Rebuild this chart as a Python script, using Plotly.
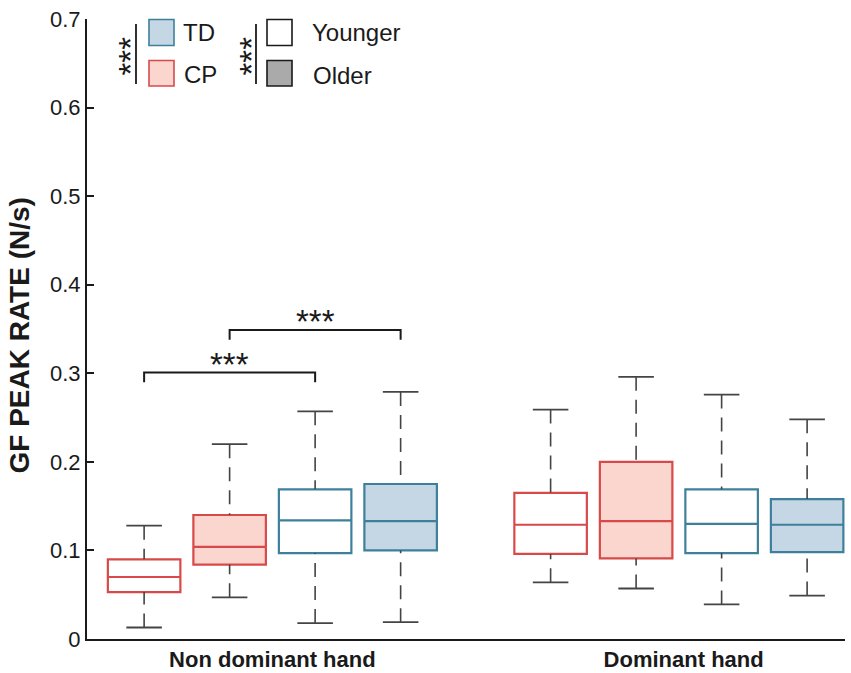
import plotly.graph_objects as go

# ---------------- data ----------------
categories = ["Non dominant hand", "Dominant hand"]
groups = ["CP Younger", "CP Older", "TD Younger", "TD Older"]

lower_whisker = {
    "CP Younger": [0.013, 0.064],
    "CP Older":   [0.047, 0.057],
    "TD Younger": [0.018, 0.039],
    "TD Older":   [0.019, 0.049],
}
q1_vals = {
    "CP Younger": [0.053, 0.096],
    "CP Older":   [0.084, 0.091],
    "TD Younger": [0.097, 0.097],
    "TD Older":   [0.100, 0.098],
}
median_vals = {
    "CP Younger": [0.070, 0.129],
    "CP Older":   [0.104, 0.133],
    "TD Younger": [0.134, 0.130],
    "TD Older":   [0.133, 0.129],
}
q3_vals = {
    "CP Younger": [0.090, 0.165],
    "CP Older":   [0.140, 0.200],
    "TD Younger": [0.169, 0.169],
    "TD Older":   [0.175, 0.158],
}
upper_whisker = {
    "CP Younger": [0.128, 0.259],
    "CP Older":   [0.220, 0.296],
    "TD Younger": [0.257, 0.276],
    "TD Older":   [0.279, 0.248],
}

# significance brackets (Non dominant hand): pairs of group indices and level
sig_pairs = [(0, 2), (1, 3)]
sig_levels = [0.301, 0.349]
sig_labels = ["***", "***"]

y_ticks = [0, 0.1, 0.2, 0.3, 0.4, 0.5, 0.6, 0.7]

# ---------------- styling ----------------
RED = "rgb(216,74,74)"
PINK = "rgb(250,214,207)"
BLUE = "rgb(62,128,155)"
LBLUE = "rgb(197,214,229)"
WHISK = "#444444"
FONT = "Liberation Sans, Arial, sans-serif"

line_col = {"CP Younger": RED, "CP Older": RED, "TD Younger": BLUE, "TD Older": BLUE}
fill_col = {"CP Younger": "white", "CP Older": PINK, "TD Younger": "white", "TD Older": LBLUE}

W, H = 851, 673
L, R, T, B = 87, 6, 19, 34
PW, PH = W - L - R, H - T - B

group_centers = [0.0, 4.754]
label_positions = [0.0, 4.81]
offsets = [-1.5, -0.5, 0.5, 1.5]
box_w = 0.848
cap_half = 0.208
x_range = [-2.168, 6.697]


def pos(gi, ci):
    return group_centers[ci] + offsets[gi]


def pxx(x):
    return (x - L) / PW


def pxy(y):
    return (H - B - y) / PH


fig = go.Figure()

# whiskers (dashed) and caps (solid)
wx, wy, cx, cy = [], [], [], []
for gi, g in enumerate(groups):
    for ci in range(len(categories)):
        x = pos(gi, ci)
        wx += [x, x, None, x, x, None]
        wy += [upper_whisker[g][ci], q3_vals[g][ci], None,
               lower_whisker[g][ci], q1_vals[g][ci], None]
        cx += [x - cap_half, x + cap_half, None, x - cap_half, x + cap_half, None]
        cy += [upper_whisker[g][ci], upper_whisker[g][ci], None,
               lower_whisker[g][ci], lower_whisker[g][ci], None]

fig.add_trace(go.Scatter(x=wx, y=wy, mode="lines", hoverinfo="skip", showlegend=False,
                         line=dict(color=WHISK, width=1.6, dash="14px,9px")))
fig.add_trace(go.Scatter(x=cx, y=cy, mode="lines", hoverinfo="skip", showlegend=False,
                         line=dict(color=WHISK, width=1.8)))

# boxes
for gi, g in enumerate(groups):
    xs = [pos(gi, ci) for ci in range(len(categories))]
    fig.add_trace(go.Box(
        x=xs, q1=q1_vals[g], median=median_vals[g], q3=q3_vals[g],
        lowerfence=q1_vals[g], upperfence=q3_vals[g],
        width=box_w, whiskerwidth=0, boxpoints=False,
        fillcolor=fill_col[g], line=dict(color=line_col[g], width=2.2),
        name=g, showlegend=False, hoverinfo="skip",
    ))

# significance brackets
drop = 0.011
for (a, b), lvl, lab in zip(sig_pairs, sig_levels, sig_labels):
    xa, xb = pos(a, 0), pos(b, 0)
    fig.add_trace(go.Scatter(x=[xa, xa, xb, xb], y=[lvl - drop, lvl, lvl, lvl - drop],
                             mode="lines", hoverinfo="skip", showlegend=False,
                             line=dict(color="#1a1a1a", width=2)))
    fig.add_annotation(x=(xa + xb) / 2, y=lvl, yshift=8, text=lab, showarrow=False,
                       xanchor="center", yanchor="middle",
                       font=dict(family=FONT, size=33, color="#1a1a1a"))

# ---------------- custom legend ----------------
shapes = []
# vertical bars
for xp in [136, 256]:
    shapes.append(dict(type="line", xref="paper", yref="paper",
                       x0=pxx(xp), x1=pxx(xp), y0=pxy(24), y1=pxy(84),
                       line=dict(color="#1a1a1a", width=1.8)))
legend_boxes = [
    (149, 174, 19.5, 45.5, LBLUE, BLUE, "TD", 181, 32),
    (149, 174, 60.5, 86, PINK, RED, "CP", 182, 74),
    (267, 292, 19.5, 45.5, "white", "#1a1a1a", "Younger", 310, 32),
    (267, 292, 60.5, 86, "#aaaaaa", "#1a1a1a", "Older", 311, 75),
]
for x0, x1, y0, y1, fc, lc, txt, tx, ty in legend_boxes:
    shapes.append(dict(type="rect", xref="paper", yref="paper",
                       x0=pxx(x0), x1=pxx(x1), y0=pxy(y1), y1=pxy(y0),
                       fillcolor=fc, line=dict(color=lc, width=1.6)))
    fig.add_annotation(xref="paper", yref="paper", x=pxx(tx), y=pxy(ty), text=txt,
                       showarrow=False, xanchor="left", yanchor="middle",
                       font=dict(family=FONT, size=24, color="#1a1a1a"))
for xp in [130, 251]:
    fig.add_annotation(xref="paper", yref="paper", x=pxx(xp), y=pxy(56.5), text="***",
                       textangle=-90, showarrow=False, xanchor="center", yanchor="middle",
                       font=dict(family=FONT, size=33, color="#1a1a1a"))

# y-axis title
fig.add_annotation(xref="paper", yref="paper", x=pxx(19.5), y=pxy(336), text="<b>GF PEAK RATE (N/s)</b>",
                   textangle=-90, showarrow=False, xanchor="center", yanchor="middle",
                   font=dict(family=FONT, size=28, color="#1a1a1a"))

fig.update_layout(
    width=W, height=H,
    margin=dict(l=L, r=R, t=T, b=B, autoexpand=False),
    paper_bgcolor="white", plot_bgcolor="white",
    shapes=shapes,
    boxmode="overlay",
    xaxis=dict(range=x_range, showgrid=False, zeroline=False, showline=True,
               linecolor="#1a1a1a", linewidth=2, ticks="",
               tickvals=label_positions, ticktext=["<b>%s</b>" % c for c in categories],
               tickfont=dict(family=FONT, size=22, color="#1a1a1a")),
    yaxis=dict(range=[0, 0.7], showgrid=False, zeroline=False, showline=True,
               linecolor="#1a1a1a", linewidth=2, ticks="inside", ticklen=7,
               tickwidth=1.5, tickcolor="#1a1a1a", tickvals=y_ticks,
               ticktext=[("%g" % v) for v in y_ticks],
               tickfont=dict(family=FONT, size=22, color="#1a1a1a")),
)

fig.write_html("out.html", config={"displayModeBar": False},
               post_script="document.body.style.margin='0';document.body.style.overflow='hidden';")
